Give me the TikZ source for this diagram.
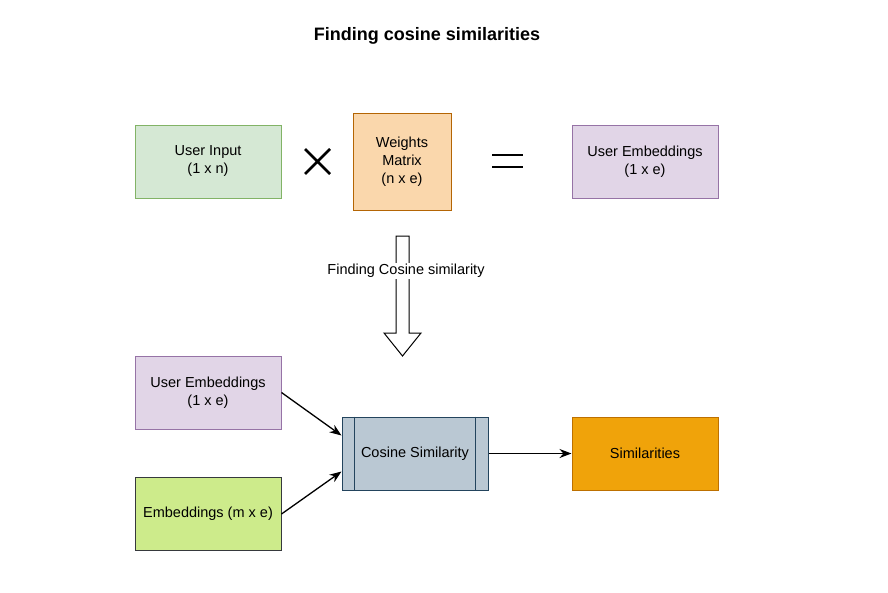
\documentclass[tikz,border=0pt]{standalone}
\usepackage{fontspec}
\setmainfont{Liberation Sans}
\usetikzlibrary{calc, arrows.meta}
\definecolor{GreenF}{HTML}{D5E8D4}
\definecolor{GreenD}{HTML}{82B366}
\definecolor{OrangeF}{HTML}{FAD7AC}
\definecolor{OrangeD}{HTML}{B46504}
\definecolor{PurpleF}{HTML}{E1D5E7}
\definecolor{PurpleD}{HTML}{9673A6}
\definecolor{SlateF}{HTML}{BAC8D3}
\definecolor{SlateD}{HTML}{23445D}
\definecolor{AmberF}{HTML}{F0A30A}
\definecolor{AmberD}{HTML}{BD7000}
\definecolor{LimeF}{HTML}{CDEB8B}
\definecolor{LimeD}{HTML}{36393D}
\xdef\LWS{1pt}
\xdef\LWO{2.6pt}
\tikzset{
  box/.style={draw, line width=\LWS, minimum width=146pt, minimum height=73pt, align=center,
    inner sep=0, font=\fontsize{14.5}{18}\selectfont},
  link/.style={line width=1.3pt, -{Stealth[length=12pt,width=9pt]}}
}

\begin{document}
\begin{tikzpicture}[x=1pt,y=-1pt]
\useasboundingbox (0,0) rectangle (888,592);
\node[font=\bfseries\fontsize{18}{20}\selectfont] (title) at (427,36) {Finding cosine similarities};
% top row
\node[box, fill=GreenF, draw=GreenD] (input) at (208,161.5) {User Input\\(1 x n)};
\node[box, fill=OrangeF, draw=OrangeD, minimum width=98pt, minimum height=97pt] (weights) at (402,161.5) {Weights\\Matrix\\(n x e)};
\node[box, fill=PurpleF, draw=PurpleD] (userembtop) at (645,161.5) {User Embeddings\\(1 x e)};
\draw[line width=\LWO] (305,149)--(330,174) (305,174)--(330,149);
\draw[line width=\LWO] (492,155)--(523,155) (492,167)--(523,167);
% block arrow
\draw[line width=\LWS, fill=white] (396,236)--(409,236)--(409,333)--(421,333)--(402.5,356)--(384,333)--(396,333)--cycle;
\node[fill=white, inner sep=1pt, font=\fontsize{14.5}{18}\selectfont] (findlbl) at (406,271) {Finding Cosine similarity};
% bottom row
\node[box, fill=PurpleF, draw=PurpleD] (userembbot) at (208,392.5) {User Embeddings\\(1 x e)};
\node[box, fill=LimeF, draw=LimeD] (emb) at (208,514) {Embeddings (m x e)};
\node[box, fill=SlateF, draw=SlateD] (cosine) at (415,453.5) {Cosine Similarity};
\draw[line width=\LWS, SlateD] ($(cosine.north west)+(13,0)$)--($(cosine.south west)+(13,0)$)
  ($(cosine.north east)+(-13,0)$)--($(cosine.south east)+(-13,0)$);
\node[box, fill=AmberF, draw=AmberD] (sims) at (645,453.5) {Similarities};
\draw[link] (userembbot.east)--($(cosine.west)+(0,-18)$);
\draw[link] (emb.east)--($(cosine.west)+(0,18)$);
\draw[link] (cosine.east)--(sims.west);
\end{tikzpicture}
\end{document}
